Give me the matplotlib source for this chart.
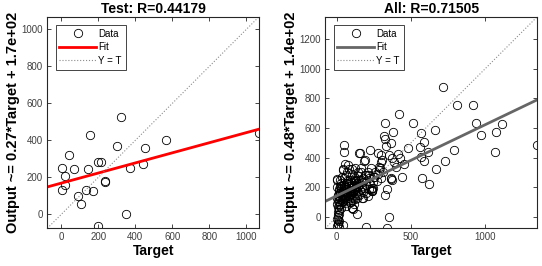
import numpy as np
import matplotlib.pyplot as plt

plt.rcParams['font.family'] = ['Liberation Sans', 'DejaVu Sans']

# Test set (target, output)
test_target = [4, 5, 22, 22, 40, 68, 92, 106, 153, 147, 136, 174, 199, 215,
               199, 235, 235, 300, 323, 350, 372, 442, 451, 566, 1068]
test_output = [252, 130, 208, 158, 321, 245, 98, 58, 429, 243, 130, 129, 284,
               284, -65, 183, 176, 371, 527, 2, 252, 270, 357, 404, 440]

# training + validation points, sparse part
other_target = [712, 808, 920, 935, 971, 1072, 1114, 1350, 792, 730, 670, 661,
                614, 623, 574, 585, 585, 569, 563, 511, 480, 420, 413, 377,
                362, 324, 350, 362, 368, 335, 326, 337, 139, 221, 192, 159,
                295, 284, 254, 232, 384, 402, 424, 51, 51, 58, 42, 103, 5,
                110, 320, 330, 281, 303, 373, 283]
other_output = [873, 755, 755, 635, 549, 574, 628, 488, 449, 374, 322, 585,
                438, 224, 265, 374, 506, 569, 472, 633, 463, 694, 427, 574,
                495, 631, 418, 261, 258, 190, 148, -72, 18, 454, 384, 431,
                420, 336, 270, 329, 367, 336, 397, 483, 438, 358, 318, 324,
                254, 52, 544, 476, 431, 386, 397, 318]

# dense cluster near the origin
cluster_target = [5, 8, 12, 3, 10, 15, 6, 18, 10, 4, 14, 20, 8, 25, 12, 30, 2,
                  35, 22, 28, 40, 18,
                  40, 45, 50, 55, 60, 65, 70, 75, 80, 85, 90, 95, 100, 105,
                  110, 115, 120, 125, 130, 135, 140, 145, 150, 155, 160, 165,
                  170, 175, 180, 185, 190, 195, 200, 210, 215, 220, 225, 230,
                  235, 240, 250, 260, 270, 280, 290, 300, 310, 55, 65, 75, 85,
                  95, 105, 115, 125, 50, 60, 70, 80, 100, 30, 35, 45, 25, 120,
                  140, 160, 180, 200, 210, 100, 150, 170, 130, 241, 185, 74,
                  62, 88, 118, 146, 172, 33, 48, 246,
                  9, 11, 7, 13, 16, 9, 6, 14, 38, 42, 52, 58, 63, 68, 72, 78,
                  83, 88, 93, 98, 103, 108, 113, 118, 123, 128, 133, 138, 24,
                  32, 46, 57, 67, 77, 87, 97, 107, 117, 127, 137]
cluster_output = [-60, -45, -30, -15, 0, 20, 35, 50, 70, 90, 105, 120, 140,
                  160, 175, 190, 200, 130, 85, 60, -55, -70,
                  150, 175, 200, 120, 160, 230, 190, 140, 210, 175, 250, 155,
                  195, 230, 170, 215, 260, 185, 240, 150, 205, 275, 225, 180,
                  250, 300, 210, 265, 235, 195, 280, 245, 215, 300, 260, 190,
                  230, 185, 175, 195, 270, 300, 240, 290, 330, 265, 300, 95,
                  75, 110, 130, 100, 140, 90, 120, 260, 280, 300, 320, 290,
                  230, 270, 110, 250, 330, 300, 330, 170, 160, 140, 60, 150,
                  130, 250, 238, 374, 352, 200, 165, 180, 210, 195, 145, 215,
                  193,
                  -50, -20, 10, 45, 80, 110, 150, 185, 100, 130, 165, 140, 200,
                  115, 170, 150, 230, 125, 205, 180, 150, 210, 180, 240, 160,
                  205, 175, 230, 170, 210, 135, 185, 155, 220, 170, 195, 125,
                  250, 200, 180]

all_target = test_target + other_target + cluster_target
all_output = test_output + other_output + cluster_output

test_fit = (0.273, 169)
all_fit = (0.48, 142)
test_lim = (-75, 1068)
all_lim = (-77, 1350)


def draw_panel(ax, target, output, fit, lim, fit_color, title, ylabel,
               xticks, yticks):
    lo, hi = lim
    ax.plot(target, output, 'o', ms=6, mfc='none', mec='k', mew=0.6,
            label='Data')
    xs = np.array([lo, hi])
    ax.plot(xs, fit[0] * xs + fit[1], color=fit_color, lw=2, label='Fit')
    ax.plot(xs, xs, ':', color='0.55', lw=0.8, label='Y = T')
    ax.set_xlim(lo, hi)
    ax.set_ylim(lo, hi)
    ax.set_xticks(xticks)
    ax.set_yticks(yticks)
    ax.tick_params(direction='in', top=True, right=True, length=3,
                   width=0.6, labelsize=7, colors='0.15', labelcolor='0.25',
                   pad=3)
    for s in ax.spines.values():
        s.set_linewidth(0.8)
        s.set_color('0.15')
    ax.set_title(title, fontsize=10, fontweight='bold', pad=3)
    ax.set_xlabel('Target', fontsize=10, fontweight='bold', labelpad=1)
    ax.set_ylabel(ylabel, fontsize=10.5, fontweight='bold', labelpad=1)
    leg = ax.legend(loc='upper left', fontsize=7, handlelength=3.8,
                    fancybox=False, framealpha=1, edgecolor='0.15',
                    borderaxespad=0.85, handletextpad=0.2, labelspacing=0.35,
                    borderpad=0.4, numpoints=1)
    leg.get_frame().set_linewidth(0.6)


fig = plt.figure(figsize=(5.42, 2.66), dpi=100)
ax1 = fig.add_axes([0.0873, 0.1417, 0.3906, 0.7955])
ax2 = fig.add_axes([0.6002, 0.1417, 0.3911, 0.7955])

draw_panel(ax1, test_target, test_output, test_fit, test_lim, '#ff0000',
           'Test: R=0.44179', 'Output ~= 0.27*Target + 1.7e+02',
           [0, 200, 400, 600, 800, 1000], [0, 200, 400, 600, 800, 1000])
draw_panel(ax2, all_target, all_output, all_fit, all_lim, '#666666',
           'All: R=0.71505', 'Output ~= 0.48*Target + 1.4e+02',
           [0, 500, 1000], [0, 200, 400, 600, 800, 1000, 1200])

fig.savefig('out.png', dpi=100)
